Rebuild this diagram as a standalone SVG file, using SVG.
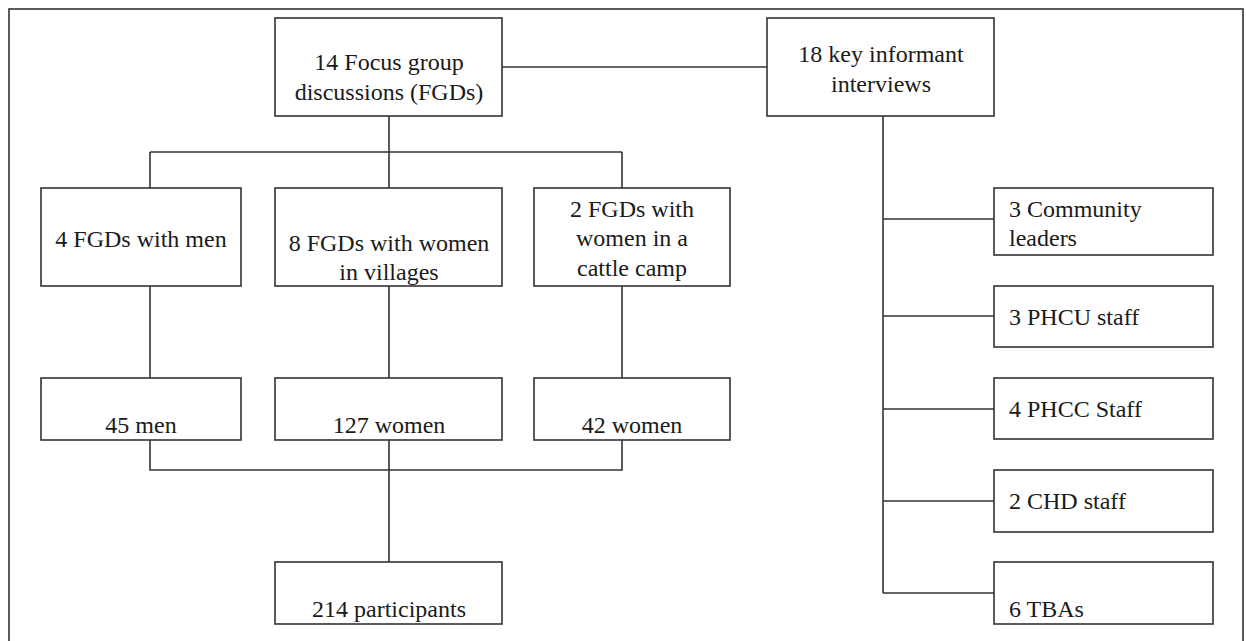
<svg xmlns="http://www.w3.org/2000/svg" width="1246" height="641" viewBox="0 0 1246 641">
<style>
.box{fill:#fff;stroke:#333;stroke-width:1.6}
.ln{fill:none;stroke:#333;stroke-width:1.6}
text{font-family:"Liberation Serif","Times New Roman",serif;font-size:24px;fill:#1a1a1a}
.c{text-anchor:middle}
</style>
<rect width="1246" height="641" fill="#fff"/>
<rect class="ln" x="9" y="9" width="1234" height="645"/>
<g id="connectors">
<path class="ln" d="M502,67 H767"/>
<path class="ln" d="M389,116 V152 M150,152 H622 M150,152 V188 M389,152 V188 M622,152 V188"/>
<path class="ln" d="M150,286 V378 M389,286 V378 M622,286 V378"/>
<path class="ln" d="M150,440 V470 H622 V440 M389,440 V562"/>
<path class="ln" d="M883,116 V593 M883,219 H994 M883,316 H994 M883,409 H994 M883,501 H994 M883,593 H994"/>
</g>
<g id="fgd">
<rect class="box" x="275" y="18" width="227" height="98"/>
<text class="c" x="389" y="70">14 Focus group</text>
<text class="c" x="389" y="100">discussions (FGDs)</text>
</g>
<g id="kii">
<rect class="box" x="767" y="18" width="227" height="98"/>
<text class="c" x="881" y="62">18 key informant</text>
<text class="c" x="881" y="92">interviews</text>
</g>
<g id="fgd-men">
<rect class="box" x="41" y="188" width="200" height="98"/>
<text class="c" x="141" y="247">4 FGDs with men</text>
</g>
<g id="fgd-women-villages">
<rect class="box" x="275" y="188" width="227" height="98"/>
<text class="c" x="389" y="251">8 FGDs with women</text>
<text class="c" x="389" y="280">in villages</text>
</g>
<g id="fgd-women-camp">
<rect class="box" x="534" y="188" width="196" height="98"/>
<text class="c" x="632" y="217">2 FGDs with</text>
<text class="c" x="632" y="246">women in a</text>
<text class="c" x="632" y="276">cattle camp</text>
</g>
<g id="men45">
<rect class="box" x="41" y="378" width="200" height="62"/>
<text class="c" x="141" y="433">45 men</text>
</g>
<g id="women127">
<rect class="box" x="275" y="378" width="227" height="62"/>
<text class="c" x="389" y="433">127 women</text>
</g>
<g id="women42">
<rect class="box" x="534" y="378" width="196" height="62"/>
<text class="c" x="632" y="433">42 women</text>
</g>
<g id="participants">
<rect class="box" x="275" y="562" width="227" height="62"/>
<text class="c" x="389" y="617">214 participants</text>
</g>
<g id="community-leaders">
<rect class="box" x="994" y="188" width="219" height="67"/>
<text x="1009" y="217">3 Community</text>
<text x="1009" y="246">leaders</text>
</g>
<g id="phcu">
<rect class="box" x="994" y="286" width="219" height="61"/>
<text x="1009" y="325">3 PHCU staff</text>
</g>
<g id="phcc">
<rect class="box" x="994" y="378" width="219" height="61"/>
<text x="1009" y="417">4 PHCC Staff</text>
</g>
<g id="chd">
<rect class="box" x="994" y="470" width="219" height="62"/>
<text x="1009" y="509">2 CHD staff</text>
</g>
<g id="tba">
<rect class="box" x="994" y="562" width="219" height="62"/>
<text x="1009" y="617">6 TBAs</text>
</g>
</svg>
